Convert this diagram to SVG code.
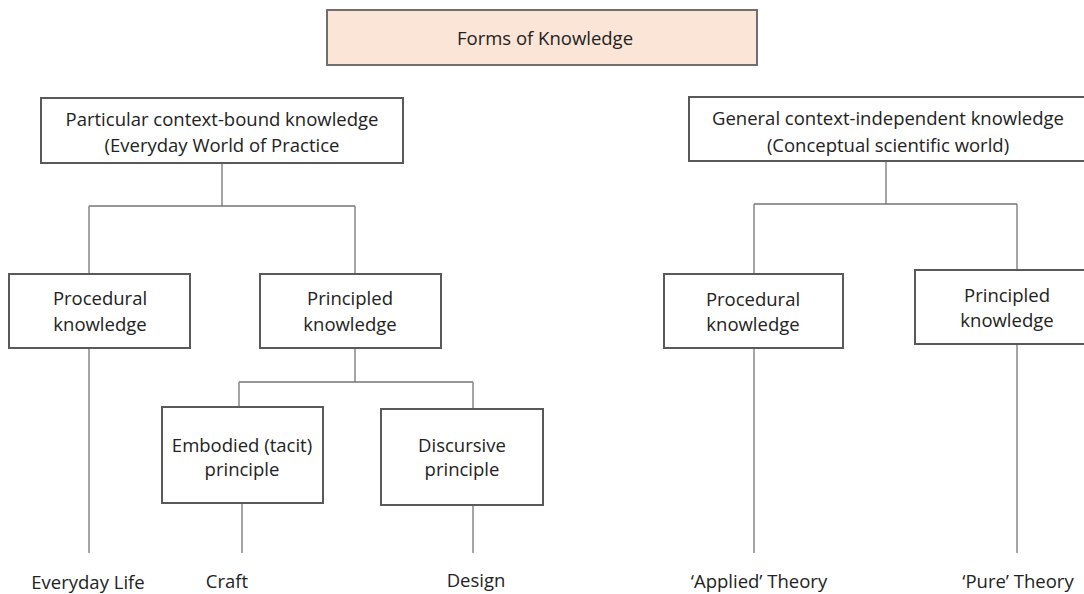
<svg xmlns="http://www.w3.org/2000/svg" width="1084" height="594" viewBox="0 0 1084 594">
<style>
.box{fill:#ffffff;stroke:#595959;stroke-width:2}
.title{fill:#fbe5d6;stroke:#6f6f6f;stroke-width:2}
.t{font-family:"Open Sans","Liberation Sans",sans-serif;font-size:18.5px;fill:#222222;text-anchor:middle}
.c{fill:none;stroke:#767676;stroke-width:1.3}
</style>
<rect width="1084" height="594" fill="#ffffff"/>
<g id="connectors">
<path class="c" d="M222 163V206M89 206H355M89 206V274M355 206V274"/>
<path class="c" d="M355 348V382M239 382H473M239 382V407M473 382V409"/>
<path class="c" d="M89 348V553M242 503V553M473 505V553"/>
<path class="c" d="M886 161V204M754 204H1017M754 204V274M1017 204V270"/>
<path class="c" d="M754 348V553M1017 344V553"/>
</g>
<g id="forms">
<rect class="title" x="327" y="10" width="430" height="55"/>
<text class="t" x="545" y="45">Forms of Knowledge</text>
</g>
<g id="particular">
<rect class="box" x="41" y="98" width="362" height="65"/>
<text class="t" x="222" y="126">Particular context-bound knowledge</text>
<text class="t" x="222" y="152">(Everyday World of Practice</text>
</g>
<g id="general">
<rect class="box" x="689" y="97" width="400" height="64"/>
<text class="t" x="888" y="125">General  context-independent knowledge</text>
<text class="t" x="888" y="152">(Conceptual scientific world)</text>
</g>
<g id="procedural-left">
<rect class="box" x="9" y="274" width="181" height="74"/>
<text class="t" x="100" y="305">Procedural</text>
<text class="t" x="100" y="331">knowledge</text>
</g>
<g id="principled-left">
<rect class="box" x="260" y="274" width="181" height="74"/>
<text class="t" x="350" y="305">Principled</text>
<text class="t" x="350" y="331">knowledge</text>
</g>
<g id="embodied">
<rect class="box" x="162" y="407" width="161" height="96"/>
<text class="t" x="242" y="452">Embodied (tacit)</text>
<text class="t" x="242" y="476">principle</text>
</g>
<g id="discursive">
<rect class="box" x="381" y="409" width="162" height="96"/>
<text class="t" x="462" y="452">Discursive</text>
<text class="t" x="462" y="476">principle</text>
</g>
<g id="procedural-right">
<rect class="box" x="664" y="274" width="179" height="74"/>
<text class="t" x="753" y="306">Procedural</text>
<text class="t" x="753" y="331">knowledge</text>
</g>
<g id="principled-right">
<rect class="box" x="915" y="270" width="185" height="74"/>
<text class="t" x="1007" y="302">Principled</text>
<text class="t" x="1007" y="327">knowledge</text>
</g>
<g id="leaves">
<text class="t" x="88" y="589">Everyday Life</text>
<text class="t" x="227" y="588">Craft</text>
<text class="t" x="476" y="587">Design</text>
<text class="t" x="759" y="588">‘Applied’ Theory</text>
<text class="t" x="1018" y="588">‘Pure’ Theory</text>
</g>
</svg>
